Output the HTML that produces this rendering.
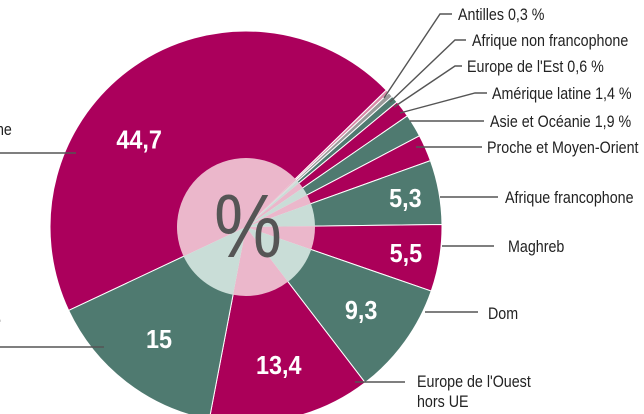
<!DOCTYPE html>
<html><head><meta charset="utf-8"><style>
html,body{margin:0;padding:0;background:#fff;}
svg{display:block;}
text{font-family:"Liberation Sans Narrow","Liberation Sans",sans-serif;}
</style></head><body>
<svg id="chart" width="644" height="414" viewBox="0 0 644 414">
<g id="slices"></g>
<g id="inner"></g>
<g id="labels"></g>
<g stroke="#555" stroke-width="1.4" fill="none">
<polyline points="384,98 440,14 452,14"/>
<polyline points="390,102 455,40 466,40"/>
<polyline points="394,107 455,66 462,66"/>
<polyline points="400,113 475,93 487,93"/>
<polyline points="410,121 484,121"/>
<polyline points="416,147 482,147"/>
<polyline points="440,197 498,197"/>
<polyline points="442,246 494,246"/>
<polyline points="425,312 478,312"/>
<polyline points="355,382 405,382"/>
<polyline points="0,153 76,153"/>
<polyline points="0,347 104,347"/>
</g>
<g font-size="17" fill="#222">
<text transform="translate(458,20) scale(0.84,1)">Antilles 0,3 %</text>
<text transform="translate(472,46) scale(0.84,1)">Afrique non francophone</text>
<text transform="translate(467,72) scale(0.84,1)">Europe de l'Est 0,6 %</text>
<text transform="translate(492,99) scale(0.84,1)">Amérique latine 1,4 %</text>
<text transform="translate(490,127) scale(0.84,1)">Asie et Océanie 1,9 %</text>
<text transform="translate(487,153) scale(0.84,1)">Proche et Moyen-Orient</text>
<text transform="translate(505,203) scale(0.84,1)">Afrique francophone</text>
<text transform="translate(508,252) scale(0.84,1)">Maghreb</text>
<text transform="translate(488,319) scale(0.84,1)">Dom</text>
<text transform="translate(417,387) scale(0.84,1)">Europe de l'Ouest</text>
<text transform="translate(417,407) scale(0.84,1)">hors UE</text>
<text transform="translate(-4,135) scale(0.84,1)">ne</text>
<text transform="translate(-7,326) scale(0.84,1)">e</text>
</g>
</svg>
<script>
const categories = ["France métropolitaine","Antilles","Afrique non francophone","Europe de l'Est","Amérique latine","Asie et Océanie","Proche et Moyen-Orient","Afrique francophone","Maghreb","Dom","Europe de l'Ouest hors UE","Union européenne"];
const values = [44.7,0.3,0.4,0.6,1.4,1.9,2.2,5.3,5.5,9.3,13.4,15];
const valueLabels = ["44,7","","","","","","","5,3","5,5","9,3","13,4","15"];
const colors = ["#ab005c","#d98aa8","#9a9a9a","#4f7a70","#ab0059","#4f7a70","#ab0059","#4f7a70","#ab0059","#4f7a70","#ab0059","#4f7a70"];
const innerColors = ["#ebb7cb","#ebb7cb","#dcdcdc","#c9ddd7","#ebb7cb","#c9ddd7","#ebb7cb","#c9ddd7","#ebb7cb","#c9ddd7","#ebb7cb","#c9ddd7"];
const startAngle = 244.8;
const cx=246, cy=227, R=196, r=69;
const NS="http://www.w3.org/2000/svg";
const total = values.reduce((a,b)=>a+b,0);
function angleOf(v){return v/total*360;}
function pt(a,rad){const t=(a-90)*Math.PI/180;return [cx+rad*Math.cos(t),cy+rad*Math.sin(t)];}
function arc(a0,a1,rad){const p0=pt(a0,rad),p1=pt(a1,rad);const lg=(a1-a0)>180?1:0;
 return `M${cx},${cy}L${p0[0]},${p0[1]}A${rad},${rad} 0 ${lg} 1 ${p1[0]},${p1[1]}Z`;}
const sG=document.getElementById('slices'), iG=document.getElementById('inner'), lG=document.getElementById('labels');
let a=startAngle;
values.forEach((v,i)=>{
 const a1=a+angleOf(v);
 const p=document.createElementNS(NS,'path');
 p.setAttribute('d',arc(a,a1,R));p.setAttribute('fill',colors[i]);p.setAttribute('stroke','#fff');p.setAttribute('stroke-width','1');
 
 
 sG.appendChild(p);
 const q=document.createElementNS(NS,'path');
 q.setAttribute('d',arc(a,a1,r));q.setAttribute('fill',innerColors[i]);
 
 
 iG.appendChild(q);
 if(valueLabels[i]){
  let m=(a+a1)/2;
  if(a1-a>120) m-=16;
  const rr=(v<7?162:(v>40?138:142));
  const c=pt(m,rr);
  const t=document.createElementNS(NS,'text');
  t.setAttribute('transform',`translate(${c[0]},${c[1]+9}) scale(0.9,1)`);
  t.setAttribute('text-anchor','middle');
  t.setAttribute('font-size','26');t.setAttribute('font-weight','bold');t.setAttribute('fill','#fff');
  t.textContent=valueLabels[i];
  
  
  lG.appendChild(t);
 }
 a=a1;
});
const pc=document.createElementNS(NS,'text');
pc.setAttribute('transform',`translate(${cx+2},${cy+30}) scale(0.85,1)`);
pc.setAttribute('text-anchor','middle');
pc.setAttribute('font-size','90');pc.setAttribute('fill','#555');pc.textContent='%';


lG.appendChild(pc);
</script>
</body></html>
